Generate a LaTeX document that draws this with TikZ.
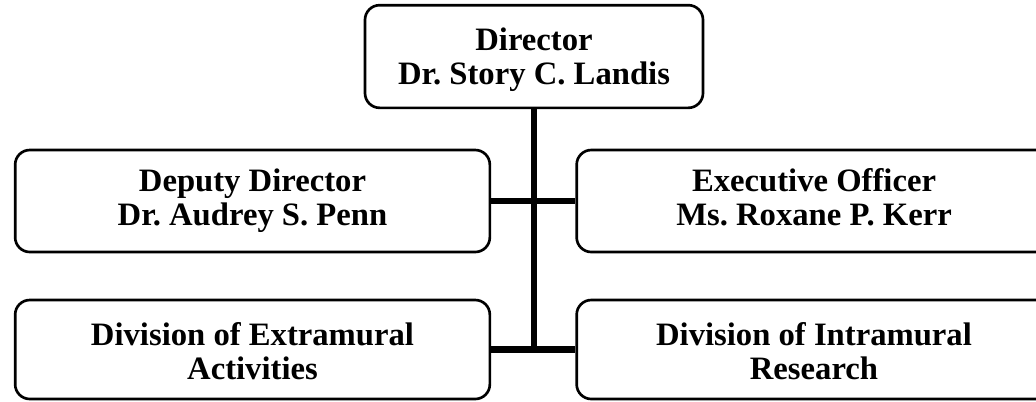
\documentclass[tikz,border=0pt]{standalone}
\usepackage{fontspec}
\setmainfont{Liberation Serif}
\usepackage{tikz}
\frenchspacing

\begin{document}
\begin{tikzpicture}[x=0.75pt,y=-0.75pt]
        \clip (0,0) rectangle (1036,401);
        \tikzset{boite/.style={draw,line width=2pt,rounded corners=11pt,inner sep=0pt,
                minimum width=356pt,minimum height=76.5pt}}
        \tikzset{texte/.style={align=center,inner sep=0pt,font=\fontsize{24.5}{25.5}\selectfont\bfseries}}
        \node[boite,minimum width=253.5pt,minimum height=77pt] (D) at (534,56.5) {};
        \node[boite] (DD) at (252.5,201) {};
        \node[boite] (EO) at (814,201) {};
        \node[boite,minimum height=74.25pt] (DEA) at (252.5,349.5) {};
        \node[boite,minimum height=74.25pt] (DIR) at (814,349.5) {};
        \node[texte] (tD) at (534,60.9) {\strut Director\\\strut Dr. Story C. Landis};
        \node[texte] (tDD) at (252.5,201.9) {\strut Deputy Director\\\strut Dr. Audrey S. Penn};
        \node[texte] (tEO) at (814,201.9) {\strut Executive Officer\\\strut Ms. Roxane P. Kerr};
        \node[texte] (tDEA) at (252.5,355.9) {\strut Division of Extramural\\\strut Activities};
        \node[texte] (tDIR) at (814,355.9) {\strut Division of Intramural\\\strut Research};
        \tikzset{lien/.style={line width=5pt}}
        \draw[lien] (D) -- (D |- DEA.east);
        \draw[lien] (DD) -- (EO);
        \draw[lien] (DEA) -- (DIR);
\end{tikzpicture}
\end{document}
